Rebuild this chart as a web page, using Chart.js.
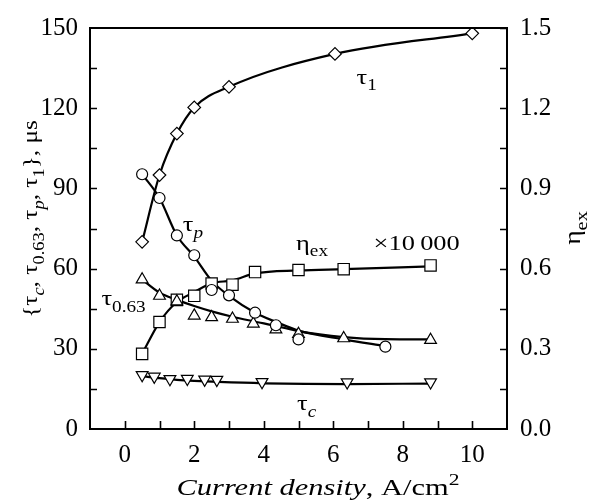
<!DOCTYPE html>
<html>
<head>
<meta charset="utf-8">
<script src="https://cdn.jsdelivr.net/npm/chart.js@4.4.1/dist/chart.umd.min.js"></script>
<style>
  html, body { margin: 0; padding: 0; background: #fff; }
  #wrap { width: 593px; height: 502px; }
  .preload { font-family: 'Liberation Serif'; position: absolute; left: -1000px; }
</style>
</head>
<body>
<div id="wrap"><canvas id="chart" width="593" height="502"></canvas></div>
<span class="preload">τ 0123 <i>p</i></span>
<script>
// measured points (current density in A/cm^2)
const tau1X = [0.5, 1.0, 1.5, 2.0, 3.0, 6.05, 10.0];
const tau1Y = [70, 95, 110.5, 120.3, 128, 140.3, 148];

const tauPX = [0.5, 1.0, 1.5, 2.0, 2.5, 3.0, 3.75, 4.35, 5.0, 7.5];
const tauPY = [95.3, 86.4, 72.4, 65, 52, 50, 43.5, 38.8, 33.5, 30.8];

const tau063X = [0.5, 1.0, 1.5, 2.0, 2.5, 3.1, 3.7, 4.35, 5.0, 6.3, 8.8];
const tau063Y = [55.9, 49.8, 47.7, 42.4, 41.8, 41.2, 39.4, 37.2, 35.5, 33.9, 33.3];

const etaX = [0.5, 1.0, 1.5, 2.0, 2.5, 3.1, 3.75, 5.0, 6.3, 8.8];
const etaY = [0.281, 0.40, 0.483, 0.498, 0.544, 0.54, 0.587, 0.595, 0.598, 0.612];

const tauCX = [0.5, 0.85, 1.3, 1.8, 2.3, 2.65, 3.95, 6.4, 8.8];
const tauCY = [20.2, 19.6, 18.7, 18.8, 18.5, 18.4, 17.6, 17.5, 17.5];

// smoothed fit curves
const tauPFitX = [0.5, 1.0, 1.5, 2.0, 2.5, 3.0, 3.75, 4.4, 5.0, 6.3, 7.5];
const tauPFitY = [95.3, 86.4, 72.4, 64.5, 55.5, 49.8, 43.5, 39.8, 36.8, 33.5, 31];

const tau063FitX = [0.5, 1.0, 1.5, 2.0, 2.5, 3.1, 3.7, 4.4, 5.0, 6.3, 7.5, 8.8];
const tau063FitY = [55.9, 51, 48.3, 46, 44, 42, 40.3, 38.4, 36.6, 34.4, 33.6, 33.5];

const etaFitX = [0.5, 1.0, 1.5, 2.0, 2.5, 3.1, 3.75, 5.0, 6.3, 8.8];
const etaFitY = [0.281, 0.40, 0.475, 0.512, 0.545, 0.556, 0.582, 0.593, 0.598, 0.608];

const tauCFitX = [0.5, 1.0, 1.5, 2.0, 2.7, 4.0, 6.4, 8.8];
const tauCFitY = [19.8, 19.0, 18.4, 18.0, 17.6, 17.1, 16.8, 17.0];

// axis ticks
const xTicks = [0, 2, 4, 6, 8, 10];
const leftTicks = [0, 30, 60, 90, 120, 150];
const rightTicks = [0, 0.3, 0.6, 0.9, 1.2, 1.5];

const FONT = "'Liberation Serif', serif";

function pts(xs, ys) {
  return xs.map((x, i) => ({ x: x, y: ys[i] }));
}

function markers(xs, ys, style, radius, axis, rotation) {
  return {
    data: pts(xs, ys),
    yAxisID: axis,
    showLine: false,
    pointStyle: style,
    pointRadius: radius,
    pointRotation: rotation || 0,
    pointBackgroundColor: '#fff',
    pointBorderColor: '#000',
    pointBorderWidth: 1.2,
    order: 1
  };
}

function curve(xs, ys, axis) {
  return {
    data: pts(xs, ys),
    yAxisID: axis,
    showLine: true,
    pointRadius: 0,
    borderColor: '#000',
    borderWidth: 2.2,
    cubicInterpolationMode: 'monotone',
    order: 2
  };
}

// draw a run of text pieces (subscripts, superscripts, italics), widened by stretch
function drawRich(ctx, runs, x, y, size, center, stretch) {
  const parts = runs.map(r => {
    const s = r.sub || r.sup ? Math.round(size * 0.72) : size;
    const f = (r.italic ? 'italic ' : '') + s + 'px ' + FONT;
    ctx.font = f;
    return { t: r.t, f: f, w: ctx.measureText(r.t).width, dy: r.sub ? size * 0.3 : (r.sup ? -size * 0.4 : 0) };
  });
  const total = parts.reduce((a, p) => a + p.w, 0);
  ctx.save();
  ctx.translate(x, y);
  ctx.scale(stretch || 1.2, 1);
  let cx = center ? -total / 2 : 0;
  ctx.textAlign = 'left';
  ctx.textBaseline = 'alphabetic';
  parts.forEach(p => {
    ctx.font = p.f;
    ctx.fillText(p.t, cx, p.dy);
    cx += p.w;
  });
  ctx.restore();
}

// in-plot labels, placed in data coordinates
const curveLabels = [
  { x: 6.67, y: 129.1, runs: [{ t: 'τ' }, { t: '1', sub: true }] },
  { x: 1.67, y: 74.1, runs: [{ t: 'τ' }, { t: 'p', sub: true, italic: true }] },
  { x: 4.93, y: 67.1, runs: [{ t: 'η' }, { t: 'ex', sub: true }] },
  { x: 7.16, y: 66.9, runs: [{ t: '×10\u2009000' }] },
  { x: -0.67, y: 46.2, runs: [{ t: 'τ' }, { t: '0.63', sub: true }] },
  { x: 4.96, y: 7.0, runs: [{ t: 'τ' }, { t: 'c', sub: true, italic: true }] }
];

const framePlugin = {
  id: 'frame',
  afterDraw(chart) {
    const ctx = chart.ctx;
    const a = chart.chartArea;
    const sx = chart.scales.x, sy = chart.scales.y, sr = chart.scales.y1;
    ctx.save();
    ctx.strokeStyle = '#000';
    ctx.fillStyle = '#000';

    // inward tick marks
    ctx.lineWidth = 1.6;
    ctx.beginPath();
    for (let v = 0; v <= 10; v++) {
      const px = Math.round(sx.getPixelForValue(v)) + 0.5;
      ctx.moveTo(px, a.bottom);
      ctx.lineTo(px, a.bottom - 8);
    }
    for (let v = 15; v < 150; v += 15) {
      const py = Math.round(sy.getPixelForValue(v)) + 0.5;
      ctx.moveTo(a.left, py);
      ctx.lineTo(a.left + 7, py);
    }
    for (let v = 0.15; v < 1.5; v += 0.15) {
      const py = Math.round(sr.getPixelForValue(v)) + 0.5;
      ctx.moveTo(a.right, py);
      ctx.lineTo(a.right - 7, py);
    }
    ctx.stroke();

    // frame
    ctx.lineWidth = 2;
    ctx.strokeRect(a.left, a.top, a.right - a.left, a.bottom - a.top);

    // curve labels
    curveLabels.forEach(l => {
      drawRich(ctx, l.runs, sx.getPixelForValue(l.x), sy.getPixelForValue(l.y), 22, false);
    });

    // axis titles
    drawRich(ctx, [
      { t: 'Current density', italic: true },
      { t: ', A/cm' },
      { t: '2', sup: true }
    ], 318, 495, 24, true, 1.27);

    ctx.save();
    ctx.translate(37, 219);
    ctx.rotate(-Math.PI / 2);
    drawRich(ctx, [
      { t: '{τ' }, { t: 'c', sub: true, italic: true },
      { t: ', τ' }, { t: '0.63', sub: true },
      { t: ', τ' }, { t: 'p', sub: true, italic: true },
      { t: ', τ' }, { t: '1', sub: true },
      { t: '}, μs' }
    ], 0, 0, 22, true, 1.15);
    ctx.restore();

    ctx.save();
    ctx.translate(580, 228);
    ctx.rotate(-Math.PI / 2);
    drawRich(ctx, [{ t: 'η' }, { t: 'ex', sub: true }], 0, 0, 23, true);
    ctx.restore();

    ctx.restore();
  }
};

const tickFont = { family: FONT, size: 25 };

function buildChart() {
  new Chart(document.getElementById('chart'), {
    type: 'scatter',
    data: {
      datasets: [
        markers(tau1X, tau1Y, 'rectRot', 6.3, 'y'),
        markers(tauPX, tauPY, 'circle', 5.5, 'y'),
        markers(tau063X, tau063Y, 'triangle', 6.8, 'y'),
        markers(etaX, etaY, 'rect', 8, 'y1'),
        markers(tauCX, tauCY, 'triangle', 6.8, 'y', 180),
        curve(tau1X, tau1Y, 'y'),
        curve(tauPFitX, tauPFitY, 'y'),
        curve(tau063FitX, tau063FitY, 'y'),
        curve(etaFitX, etaFitY, 'y1'),
        curve(tauCFitX, tauCFitY, 'y')
      ]
    },
    options: {
      responsive: false,
      animation: false,
      layout: { padding: { top: 20, left: 0, right: 0, bottom: 0 } },
      plugins: {
        legend: { display: false },
        tooltip: { enabled: false }
      },
      scales: {
        x: {
          type: 'linear',
          min: -1,
          max: 11,
          grid: { display: false, drawTicks: false },
          border: { display: false },
          ticks: { font: tickFont, color: '#000', padding: 11 },
          afterBuildTicks: s => { s.ticks = xTicks.map(v => ({ value: v })); },
          afterFit: s => { s.height = 73; }
        },
        y: {
          position: 'left',
          min: 0,
          max: 150,
          grid: { display: false, drawTicks: false },
          border: { display: false },
          ticks: { font: tickFont, color: '#000', padding: 12 },
          afterBuildTicks: s => { s.ticks = leftTicks.map(v => ({ value: v })); },
          afterFit: s => { s.width = 90; }
        },
        y1: {
          position: 'right',
          min: 0,
          max: 1.5,
          grid: { display: false, drawTicks: false },
          border: { display: false },
          ticks: { font: tickFont, color: '#000', padding: 13, callback: v => v.toFixed(1) },
          afterBuildTicks: s => { s.ticks = rightTicks.map(v => ({ value: v })); },
          afterFit: s => { s.width = 86; }
        }
      }
    },
    plugins: [framePlugin]
  });
}

Promise.all([
  document.fonts.load("25px 'Liberation Serif'"),
  document.fonts.load("italic 22px 'Liberation Serif'")
]).then(buildChart, buildChart);
</script>
</body>
</html>
